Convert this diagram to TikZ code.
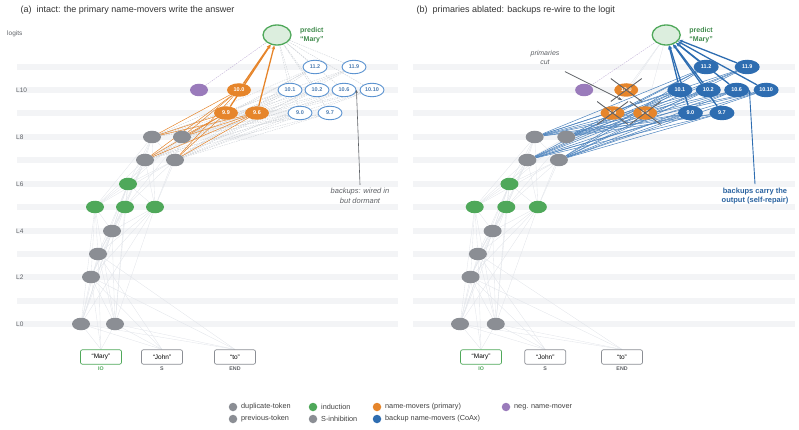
\documentclass[tikz,border=0pt]{standalone}
\usepackage{fontspec}
\setmainfont{Liberation Sans}
\usepackage{tikz}
\usetikzlibrary{arrows.meta, shapes.geometric, shapes.misc, positioning, backgrounds}
\definecolor{mygray}{HTML}{8B8E94}
\definecolor{mygreen}{HTML}{4FA85A}
\definecolor{mydkgreen}{HTML}{3F8A4B}
\definecolor{myorange}{HTML}{E6852B}
\definecolor{mypurple}{HTML}{9A7BBB}
\definecolor{myblue}{HTML}{2E6DB1}
\definecolor{mylightblue}{HTML}{5A92D0}
\definecolor{mystripe}{HTML}{F3F4F6}
\definecolor{myweb}{HTML}{E2E5EA}
\definecolor{mydash}{HTML}{CDD1D6}
\definecolor{mytext}{HTML}{5E6166}
\definecolor{mycross}{HTML}{5F6267}
\tikzstyle{head} = [ellipse, minimum width=18pt, minimum height=12.5pt, inner sep=0pt]
\tikzstyle{prevtok} = [head, fill=mygray]
\tikzstyle{induct} = [head, fill=mygreen]
\tikzstyle{negmover} = [head, fill=mypurple]
\tikzstyle{mover} = [ellipse, minimum width=24pt, minimum height=13.5pt, inner sep=0pt, font=\fontsize{5.5}{6}\selectfont\bfseries]
\tikzstyle{primary} = [mover, fill=myorange, text=white]
\tikzstyle{backupidle} = [mover, draw=mylightblue, line width=0.9pt, fill=white, text=mylightblue!85!black]
\tikzstyle{backuplive} = [mover, minimum width=25pt, minimum height=14.5pt, fill=myblue, text=white]
\tikzstyle{logitnode} = [ellipse, minimum width=28pt, minimum height=20pt, inner sep=0pt, draw=mygreen, fill=mygreen!20, line width=1.3pt]
\tikzstyle{token} = [rectangle, rounded corners=2pt, draw=mygray, line width=0.7pt, fill=white, minimum width=41pt, minimum height=14.5pt, inner sep=0pt, font=\fontsize{6.5}{7}\selectfont]
\tikzstyle{role} = [font=\fontsize{5.3}{6}\selectfont\bfseries, text=mytext, inner sep=0pt]
\tikzstyle{web} = [draw=myweb, line width=0.35pt]
\tikzstyle{dormant} = [draw=mydash, line width=0.4pt, dash pattern=on 1.5pt off 1pt]
\tikzstyle{primwire} = [draw=myorange, line width=0.5pt]
\tikzstyle{primout} = [draw=myorange, line width=1.3pt, -{Stealth[length=4pt,width=3.5pt]}]
\tikzstyle{backwire} = [draw=myblue!85, line width=0.5pt]
\tikzstyle{backout} = [draw=myblue, line width=1.3pt, -{Stealth[length=4pt,width=3.5pt]}]
\tikzstyle{negwire} = [draw=mypurple!60, line width=0.4pt, dash pattern=on 1.5pt off 1pt]
\tikzstyle{layerlab} = [anchor=west, font=\fontsize{6.5}{7}\selectfont, text=mytext, inner sep=0pt]
\tikzstyle{keydot} = [circle, minimum size=8.5pt, inner sep=0pt]
\tikzstyle{keytext} = [font=\fontsize{7.3}{8}\selectfont, text=black!75, inner sep=0pt]

% heads shared by both panels, #1 = look of the backups
\newcommand{\circuitnodes}[1]{%
\node[token, draw=mygreen] (tokIO) at (101,357) {“Mary”};
\node[token] (tokS) at (162,357) {“John”};
\node[token] (tokE) at (235,357) {“to”};
\node[role, text=mygreen, below=2pt of tokIO] {IO};
\node[role, below=2pt of tokS] {S};
\node[role, below=2pt of tokE] {END};
\node[prevtok] (l0a) at (81,324) {};
\node[prevtok] (l0b) at (115,324) {};
\node[prevtok] (l2) at (91,277) {};
\node[prevtok] (l3) at (98,254) {};
\node[prevtok] (l4) at (112,231) {};
\node[induct] (l5a) at (95,207) {};
\node[induct] (l5b) at (125,207) {};
\node[induct] (l5c) at (155,207) {};
\node[induct] (l6) at (128,184) {};
\node[prevtok] (l7a) at (145,160) {};
\node[prevtok] (l7b) at (175,160) {};
\node[prevtok] (l8a) at (152,137) {};
\node[prevtok] (l8b) at (182,137) {};
\node[negmover] (neg) at (199,90) {};
\node[primary] (p100) at (239,90) {10.0};
\node[primary] (p99) at (226,113) {9.9};
\node[primary] (p96) at (257,113) {9.6};
\node[#1] (b90) at (300,113) {9.0};
\node[#1] (b97) at (330,113) {9.7};
\node[#1] (b101) at (290,90) {10.1};
\node[#1] (b102) at (317,90) {10.2};
\node[#1] (b106) at (344,90) {10.6};
\node[#1] (b1010) at (372,90) {10.10};
\node[#1] (b112) at (315,67) {11.2};
\node[#1] (b119) at (354,67) {11.9};
\node[logitnode] (logit) at (277,35) {};
\node[anchor=west, right=5pt of logit, align=left, text=mydkgreen, font=\fontsize{7}{9}\selectfont\bfseries] {predict\\“Mary”};
}

% faint wiring of the lower circuit
\newcommand{\circuitweb}{%
\foreach \s in {tokIO,tokS,tokE} \foreach \t in {l0a,l0b,l2,l3} {\draw[web] (\s.north) -- (\t);}
\foreach \s in {l0a,l0b} \foreach \t in {l2,l3,l4,l5a,l5b,l5c,l6} {\draw[web] (\s) -- (\t);}
\foreach \s in {l2,l3} \foreach \t in {l4,l5a,l5b,l5c,l6} {\draw[web] (\s) -- (\t);}
\foreach \t in {l5a,l5b,l5c,l6,l7a} {\draw[web] (l4) -- (\t);}
\foreach \s in {l5a,l5b,l5c} \foreach \t in {l6,l7a,l7b,l8a,l8b} {\draw[web] (\s) -- (\t);}
\foreach \t in {l7a,l7b,l8a,l8b} {\draw[web] (l6) -- (\t);}
\foreach \s in {l7a,l7b} \foreach \t in {l8a,l8b} {\draw[web] (\s) -- (\t);}
\draw[negwire] (neg) -- (logit);
}

\begin{document}
\begin{tikzpicture}[x=1pt, y=-1pt, >=Stealth]
\useasboundingbox (0,0) rectangle (799,430);

\begin{scope}[on background layer]
\foreach \y in {67,90,113,137,160,184,207,231,254,277,301,324} {
  \fill[mystripe] (17,\y-3) rectangle (398,\y+3);
  \fill[mystripe] (413,\y-3) rectangle (795,\y+3);
}
\end{scope}

\node[anchor=west, font=\fontsize{9}{10}\selectfont, text=black!80] (titlea) at (17,10) {(a)\ \ intact: the primary name-movers write the answer};
\node[anchor=west, font=\fontsize{9}{10}\selectfont, text=black!80] (titleb) at (413,10) {(b)\ \ primaries ablated: backups re-wire to the logit};
\node[layerlab] (lablogit) at (7,34) {logits};
\foreach \y/\l in {90/L10,137/L8,184/L6,231/L4,277/L2,324/L0}
  \node[layerlab] at (16,\y) {\l};

% (a) intact
\begin{scope}[name prefix=a-]
\circuitnodes{backupidle}
\begin{scope}[on background layer]
\circuitweb
\foreach \s in {l7a,l7b,l8a,l8b} \foreach \t in {b90,b97,b101,b102,b106,b1010,b112,b119} {\draw[dormant] (\s) -- (\t);}
\foreach \t in {b90,b97,b101,b102,b106,b1010,b112,b119} {\draw[dormant] (\t) -- (logit);}
\foreach \s in {l7a,l7b,l8a,l8b} \foreach \t in {p100,p99,p96} {\draw[primwire] (\s) -- (\t);}
\foreach \s in {p100,p99,p96} {\draw[primout] (\s) -- (logit);}
\end{scope}
\end{scope}

% (b) ablated
\begin{scope}[xshift=374.8pt, xscale=1.052, name prefix=b-]
\circuitnodes{backuplive}
\foreach \t in {p100,p99,p96}
  \node[cross out, draw=mycross, line width=0.9pt, minimum width=30pt, minimum height=22pt] at (\t) {};
\begin{scope}[on background layer]
\circuitweb
\foreach \t in {p100,p99,p96} {\draw[web] (logit) -- (\t);}
\foreach \s in {l7a,l7b,l8a,l8b} \foreach \t in {b90,b97,b101,b102,b106,b1010,b112,b119} {\draw[backwire] (\s) -- (\t);}
\foreach \t in {b90,b97,b101,b102,b106,b1010,b112,b119} {\draw[backout] (\t) -- (logit);}
\end{scope}
\end{scope}

% notes
\node[align=center, text=mytext, font=\fontsize{7.5}{9.5}\selectfont\itshape] (dormnote) at (360,196) {backups: wired in\\but dormant};
\draw[draw=mytext, line width=0.6pt, -{Stealth[length=3pt,width=2.5pt]}] (dormnote.north) -- (a-b106.east);
\node[align=center, text=myblue!90!black, font=\fontsize{7.5}{9.5}\selectfont\bfseries] (rescuenote) at (755,196) {backups carry the\\output (self-repair)};
\draw[draw=myblue, line width=0.9pt, -{Stealth[length=3pt,width=2.5pt]}] (rescuenote.north) -- (b-b106.east);
\node[align=center, text=mytext, font=\fontsize{7}{9}\selectfont\itshape] (cutnote) at (545,58) {primaries\\cut};
\coordinate (cuttip) at (622,100);
\draw[draw=mycross, line width=0.8pt, -{Stealth[length=4pt,width=3pt]}] ([xshift=2pt,yshift=-3pt]cutnote.south east) -- (cuttip);

% legend
\node[keydot, fill=mygray] (k1) at (233,407) {};
\node[keytext, right=3.5pt of k1] {duplicate-token};
\node[keydot, fill=mygray] (k2) at (233,419) {};
\node[keytext, right=3.5pt of k2] {previous-token};
\node[keydot, fill=mygreen] (k3) at (313,407) {};
\node[keytext, right=3.5pt of k3] {induction};
\node[keydot, fill=mygray] (k4) at (313,419) {};
\node[keytext, right=3.5pt of k4] {S-inhibition};
\node[keydot, fill=myorange] (k5) at (377,407) {};
\node[keytext, right=3.5pt of k5] {name-movers (primary)};
\node[keydot, fill=myblue] (k6) at (377,419) {};
\node[keytext, right=3.5pt of k6] {backup name-movers (CoAx)};
\node[keydot, fill=mypurple] (k7) at (506,407) {};
\node[keytext, right=3.5pt of k7] {neg. name-mover};
\end{tikzpicture}
\end{document}
